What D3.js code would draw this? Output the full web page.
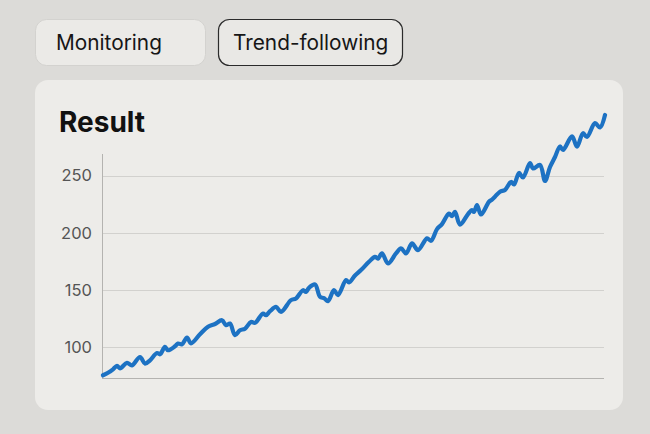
<!DOCTYPE html>
<html>
<head>
<meta charset="utf-8">
<script src="https://cdn.jsdelivr.net/npm/d3@7"></script>
<style>
  html, body { margin: 0; padding: 0; background: #dcdbd8; }
  svg { display: block; font-family: Inter, "Liberation Sans", sans-serif; }
</style>
</head>
<body>
<svg width="650" height="434"></svg>
<script>
// data
var buttons = ["Monitoring", "Trend-following"];
var title = "Result";
var yTicks = [100, 150, 200, 250];
var days = [0, 5, 10, 14, 17, 24, 29, 37, 42, 47, 54, 57, 62, 65, 72, 75, 79, 84, 88, 97,
  105, 112, 119, 123, 127, 132, 137, 142, 148, 152, 160, 163, 167, 173, 178, 188, 193, 200, 203, 206,
  212, 217, 221, 225, 231, 235, 243, 246, 252, 258, 266, 272, 275, 279, 285, 293, 298, 303, 309, 315,
  324, 328, 334, 339, 346, 349, 352, 357, 365, 369, 371, 374, 378, 386, 389, 392, 397, 402, 408, 411,
  416, 420, 427, 430, 437, 442, 447, 452, 457, 460, 469, 474, 480, 484, 492, 497, 502];
var values = [75.2, 77.4, 80.4, 83.5, 81.3, 86.0, 83.9, 91.2, 85.4, 88.3, 94.7, 93.6, 100.0, 97.1, 100.6, 103.0, 102.4, 108.2, 103.2, 111.1,
  117.7, 120.1, 123.4, 119.0, 120.5, 110.3, 114.6, 116.0, 121.9, 121.1, 129.3, 127.8, 131.3, 135.1, 130.7, 141.0, 142.5, 149.7, 148.2, 151.8,
  154.7, 143.9, 142.7, 140.1, 149.7, 145.4, 158.5, 156.5, 162.5, 167.3, 174.6, 178.9, 177.4, 181.9, 173.2, 181.9, 186.3, 181.9, 190.7, 184.8,
  195.1, 193.0, 203.2, 207.6, 216.8, 214.6, 218.4, 207.2, 216.4, 219.9, 218.2, 224.3, 216.0, 227.2, 229.1, 231.6, 236.0, 237.5, 244.5, 242.3,
  252.4, 248.4, 261.1, 256.3, 259.4, 245.4, 257.6, 266.4, 275.6, 272.5, 284.4, 275.4, 287.2, 283.9, 296.0, 292.3, 303.2];

var svg = d3.select("svg");

// buttons
var btn = [
  {x: 35, w: 170, tx: 56, fill: "#ebeae7", stroke: "#d3d2cf", sw: 1},
  {x: 218, w: 184, tx: 233, fill: "#e9e8e5", stroke: "#2b2b2b", sw: 1.2}
];
btn.forEach(function(b, i) {
  svg.append("rect")
    .attr("x", b.x + 0.5).attr("y", 19.5)
    .attr("width", b.w).attr("height", 46)
    .attr("rx", 11)
    .attr("fill", b.fill)
    .attr("stroke", b.stroke)
    .attr("stroke-width", b.sw);
  svg.append("text")
    .attr("x", b.tx)
    .attr("y", 50)
    .style("font-size", "20.8px")
    .style("fill", "#161616")
    .text(buttons[i]);
});

// card
svg.append("rect")
  .attr("x", 35).attr("y", 80)
  .attr("width", 588).attr("height", 330)
  .attr("rx", 13)
  .attr("fill", "#edece9");

svg.append("text")
  .attr("x", 59)
  .attr("y", 132)
  .style("font-size", "28px")
  .style("font-weight", "bold")
  .style("fill", "#111")
  .text(title);

var x = d3.scaleLinear().domain([0, 502]).range([103, 605]);
var y = d3.scaleLinear().domain([72.8, 269]).range([378, 154]);

// gridlines
svg.append("g")
  .selectAll("line")
  .data(yTicks)
  .enter().append("line")
    .attr("x1", 102).attr("x2", 604)
    .attr("y1", function(d) { return Math.round(y(d)) + 0.5; })
    .attr("y2", function(d) { return Math.round(y(d)) + 0.5; })
    .attr("stroke", "#d2d1ce")
    .attr("stroke-width", 1.2);

// tick labels
svg.append("g")
  .selectAll("text")
  .data(yTicks)
  .enter().append("text")
    .attr("x", 92)
    .attr("y", function(d) { return y(d); })
    .attr("dy", "0.35em")
    .attr("text-anchor", "end")
    .style("font-size", "16.5px")
    .style("fill", "#555")
    .text(function(d) { return d; });

// axis lines
svg.append("line")
  .attr("x1", 102.5).attr("x2", 102.5)
  .attr("y1", 154).attr("y2", 378)
  .attr("stroke", "#b4b3b0");
svg.append("line")
  .attr("x1", 102).attr("x2", 604)
  .attr("y1", 378.5).attr("y2", 378.5)
  .attr("stroke", "#b4b3b0");

// the line
var line = d3.line()
  .x(function(d, i) { return x(days[i]); })
  .y(function(d) { return y(d); })
  .curve(d3.curveCatmullRom);

svg.append("path")
  .datum(values)
  .attr("d", line)
  .attr("fill", "none")
  .attr("stroke", "#1d72c3")
  .attr("stroke-width", 4.2)
  .attr("stroke-linejoin", "round")
  .attr("stroke-linecap", "round");
</script>
</body>
</html>
